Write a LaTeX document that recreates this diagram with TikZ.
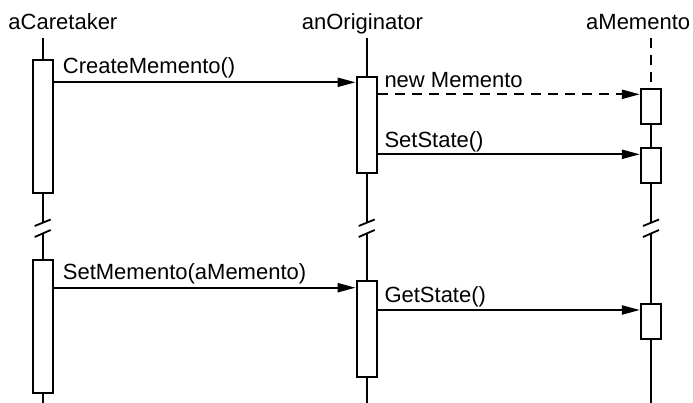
\documentclass[tikz,border=0pt]{standalone}
\usepackage{fontspec}
\setmainfont{Liberation Sans}
\usetikzlibrary{arrows.meta}
\begin{document}
\begin{tikzpicture}[x=1pt,y=-1pt,
  lbl/.style={anchor=base west,inner sep=0pt,font=\fontsize{22}{26}\selectfont},
  act/.style={draw,line width=2.2pt,fill=white,minimum width=20pt,inner sep=0pt,anchor=north},
  life/.style={line width=2.2pt},
  msg/.style={line width=2.2pt,-{Triangle[length=18pt,width=9pt]}},
  brk/.style={line width=1.8pt}]
\useasboundingbox (0,0) rectangle (693,403);
% headers
\node[lbl] (hc) at (8.3,29.3) {aCaretaker};
\node[lbl] (ho) at (301.7,29.3) {anOriginator};
\node[lbl] (hm) at (586,29.3) {aMemento};
% lifeline ends
\coordinate (ct) at (42.7,37.7);
\coordinate (ot) at (366.7,37.7);
\coordinate (mt) at (651,37.7);
\coordinate (cb) at (42.7,403);
\coordinate (ob) at (366.7,403);
\coordinate (mb) at (651,403);
\foreach \n/\x in {c/42.7,o/366.7,m/651}{
  \coordinate (\n k1) at (\x,222);
  \coordinate (\n k2) at (\x,233);
}
% activation boxes
\node[act,minimum height=132.7pt] (c1) at (42.7,59.3) {};
\node[act,minimum height=132.7pt] (c2) at (42.7,259.3) {};
\node[act,minimum height=96pt] (o1) at (366.7,76) {};
\node[act,minimum height=96pt] (o2) at (366.7,280) {};
\node[act,minimum height=35pt] (m1) at (651,87.7) {};
\node[act,minimum height=35.6pt] (m2) at (651,146.7) {};
\node[act,minimum height=35pt] (m3) at (651,302.7) {};
% lifelines
\draw[life] (ct) -- (c1.north);
\draw[life] (c1.south) -- (ck1);
\draw[life] (ck2) -- (c2.north);
\draw[life] (c2.south) -- (cb);
\draw[life] (ot) -- (o1.north);
\draw[life] (o1.south) -- (ok1);
\draw[life] (ok2) -- (o2.north);
\draw[life] (o2.south) -- (ob);
\draw[life,dash pattern=on 10pt off 7pt] (mt) -- (m1.north);
\draw[life] (m1.south) -- (m2.north);
\draw[life] (m2.south) -- (mk1);
\draw[life] (mk2) -- (m3.north);
\draw[life] (m3.south) -- (mb);
% break marks
\foreach \n in {c,o,m}{
  \draw[brk] ([shift={(-8,4)}]\n k1) -- ([shift={(8,-2.5)}]\n k1);
  \draw[brk] ([shift={(-8,4)}]\n k2) -- ([shift={(8,-3)}]\n k2);
}
% messages
\coordinate (a1) at ([yshift=-23pt]c1.north east);
\draw[msg] (a1) -- (a1 -| o1.west);
\coordinate (a2) at ([yshift=-18.3pt]o1.north east);
\draw[msg,dash pattern=on 10pt off 7pt] (a2) -- (a2 -| m1.west);
\coordinate (a3) at ([yshift=-78.3pt]o1.north east);
\draw[msg] (a3) -- (a3 -| m2.west);
\coordinate (a4) at ([yshift=-28.4pt]c2.north east);
\draw[msg] (a4) -- (a4 -| o2.west);
\coordinate (a5) at ([yshift=-30pt]o2.north east);
\draw[msg] (a5) -- (a5 -| m3.west);
% message labels
\node[lbl] (l1) at (62.7,74) {CreateMemento()};
\node[lbl] (l2) at (384.3,87.3) {new Memento};
\node[lbl] (l3) at (384.3,147.3) {SetState()};
\node[lbl] (l4) at (62.7,279.3) {SetMemento(aMemento)};
\node[lbl] (l5) at (384.3,302.7) {GetState()};
\end{tikzpicture}
\end{document}
